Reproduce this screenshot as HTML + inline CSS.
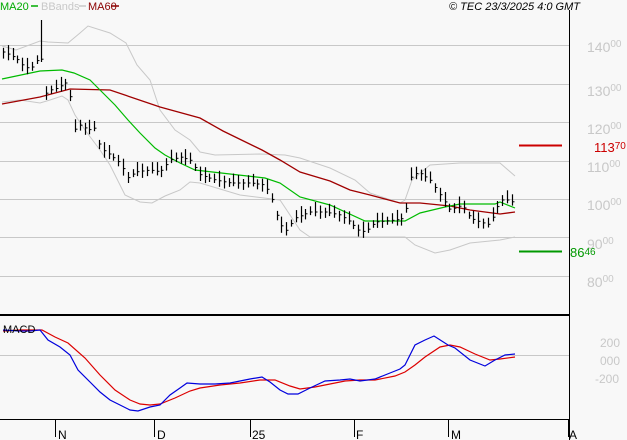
<!DOCTYPE html>
<html><head><meta charset="utf-8"><style>
html,body{margin:0;padding:0;background:#f8f8f8;}
svg{display:block;font-family:"Liberation Sans",sans-serif;}
</style></head><body>
<svg id="s" width="627" height="440" xmlns="http://www.w3.org/2000/svg">
<rect width="627" height="440" fill="#f8f8f8"/>
<g stroke="#c8c8c8" stroke-width="1">
<line x1="0" y1="45.5" x2="569" y2="45.5"/><line x1="0" y1="84.5" x2="569" y2="84.5"/>
<line x1="0" y1="122.5" x2="569" y2="122.5"/><line x1="0" y1="161.5" x2="569" y2="161.5"/>
<line x1="0" y1="199.5" x2="569" y2="199.5"/><line x1="0" y1="237.5" x2="569" y2="237.5"/>
<line x1="0" y1="276.5" x2="569" y2="276.5"/><line x1="0" y1="355.5" x2="569" y2="355.5"/>
</g>
<g fill="#c8c8c8" font-size="14">
<text x="587" y="52">140<tspan font-size="10" dy="-5">00</tspan></text>
<text x="587" y="96">130<tspan font-size="10" dy="-5">00</tspan></text>
<text x="587" y="134">120<tspan font-size="10" dy="-5">00</tspan></text>
<text x="587" y="172">110<tspan font-size="10" dy="-5">00</tspan></text>
<text x="587" y="210">100<tspan font-size="10" dy="-5">00</tspan></text>
<text x="587" y="249">90<tspan font-size="10" dy="-5">00</tspan></text>
<text x="587" y="287">80<tspan font-size="10" dy="-5">00</tspan></text>
<text x="600" y="347" font-size="12">200</text>
<text x="600" y="365" font-size="12">000</text>
<text x="595" y="383" font-size="12">-200</text>
</g>
<line x1="519" y1="145.5" x2="562" y2="145.5" stroke="#cc0000" stroke-width="2"/>
<line x1="519" y1="251.5" x2="562" y2="251.5" stroke="#009900" stroke-width="2"/>
<text x="594" y="152" fill="#cc0000" font-size="13">113<tspan font-size="10" dy="-3">70</tspan></text>
<text x="570" y="257" fill="#009900" font-size="13">86<tspan font-size="10" dy="-2">46</tspan></text>
<g id="plot"></g>
<line x1="569.5" y1="10" x2="569.5" y2="440" stroke="#000"/>
<line x1="0" y1="315" x2="569" y2="315" stroke="#000" stroke-width="2"/>
<line x1="0" y1="419.5" x2="569" y2="419.5" stroke="#000"/>
<g stroke="#000"><line x1="55.5" y1="419" x2="55.5" y2="437"/><line x1="154.5" y1="419" x2="154.5" y2="437"/><line x1="250.5" y1="419" x2="250.5" y2="437"/><line x1="354.5" y1="419" x2="354.5" y2="437"/><line x1="448.5" y1="419" x2="448.5" y2="437"/><line x1="568.5" y1="419" x2="568.5" y2="437"/></g>
<g font-size="12" fill="#000"><text x="58" y="439">N</text><text x="157" y="439">D</text><text x="252" y="439">25</text><text x="356" y="439">F</text><text x="451" y="439">M</text><text x="569" y="439">A</text></g>
<text x="3" y="333" font-size="11" fill="#000">MACD</text>
<g font-size="11"><text x="0" y="10" fill="#00aa00">MA20</text><line x1="31" y1="6" x2="38" y2="6" stroke="#00aa00" stroke-width="1.5"/>
<text x="41" y="10" fill="#c8c8c8">BBands</text><line x1="79" y1="6" x2="86" y2="6" stroke="#c8c8c8" stroke-width="1.5"/>
<text x="88" y="10" fill="#8b0000">MA60</text><line x1="111" y1="6" x2="119" y2="6" stroke="#8b0000" stroke-width="1.5"/>
<text x="449" y="10" font-style="italic" fill="#000">© TEC 23/3/2025 4:0 GMT</text></g>
</svg>
<script>
function P(a){return a.map((p,i)=>(i?'L':'M')+p[0]+' '+p[1]).join(' ');}
function interp(a,x){for(let i=1;i<a.length;i++){if(x<=a[i][0]){const t=(x-a[i-1][0])/(a[i][0]-a[i-1][0]);return a[i-1][1]+t*(a[i][1]-a[i-1][1]);}}return a[a.length-1][1];}
const up=[[2,46],[16,50],[40,41],[48,42],[68,43],[80,33],[88,26],[110,33],[126,43],[137,65],[150,80],[160,110],[175,130],[190,140],[200,152],[215,155],[260,154],[285,155],[300,158],[330,168],[355,180],[370,193],[400,203],[405,200],[412,180],[430,165],[460,163],[500,163],[515,176]];
const lo=[[2,102],[20,100],[40,103],[50,100],[62,96],[68,100],[75,115],[85,130],[100,150],[110,165],[125,195],[140,202],[152,203],[165,196],[180,190],[190,182],[200,183],[240,195],[280,200],[300,230],[310,237],[330,237],[405,237],[415,245],[435,253],[450,250],[470,243],[500,240],[515,237]];
const ma20=[[2,79],[40,71],[62,70],[74,73],[90,80],[100,90],[115,105],[128,120],[140,133],[155,148],[165,155],[180,163],[195,170],[230,174],[265,178],[280,183],[300,197],[330,205],[365,221],[405,221],[420,213],[445,207],[460,204],[495,204],[500,202],[515,208]];
const ma60=[[2,104],[40,97],[70,89],[110,90],[160,107],[200,118],[223,131],[262,150],[280,160],[300,172],[330,181],[350,190],[370,195],[400,203],[420,203],[450,206],[470,210],[500,214],[515,212]];
const cl=[[3,52],[10,55],[18,60],[25,68],[32,67],[37,60],[40,40],[44,95],[50,90],[58,88],[65,82],[70,95],[74,130],[80,125],[88,130],[95,128],[100,148],[110,155],[120,163],[128,178],[135,172],[150,170],[160,172],[170,160],[180,157],[190,160],[200,175],[215,180],[230,183],[250,183],[265,185],[272,200],[278,220],[285,232],[295,218],[310,212],[325,212],[340,215],[350,222],[358,230],[365,232],[375,222],[395,220],[405,218],[410,178],[418,172],[430,180],[440,195],[450,210],[462,205],[470,218],[480,222],[490,225],[495,210],[502,200],[510,200],[515,205]];
const mb=[[3,330],[20,331],[30,331],[40,330],[48,340],[60,347],[70,355],[78,370],[90,382],[100,392],[110,400],[120,405],[130,410],[138,411],[150,407],[160,405],[170,395],[180,388],[187,383],[200,384],[215,384],[230,383],[240,381],[250,379],[262,377],[270,382],[280,390],[288,394],[298,394],[310,388],[325,381],[340,380],[350,379],[360,381],[375,379],[390,373],[400,369],[405,365],[415,345],[425,340],[434,336],[448,345],[455,348],[470,360],[485,366],[495,360],[505,355],[515,354]];
const mr=[[3,331],[20,330],[42,330],[55,337],[68,343],[85,358],[100,375],[115,390],[130,400],[140,404],[150,405],[160,404],[175,398],[190,391],[200,388],[220,385],[240,383],[260,380],[275,380],[290,386],[300,389],[315,387],[330,384],[345,381],[360,380],[375,380],[395,376],[405,372],[415,365],[425,357],[440,347],[450,345],[460,347],[475,354],[490,360],[500,359],[515,357]];
let h='';
h+='<path d="'+P(up)+'" fill="none" stroke="#c8c8c8"/>';
h+='<path d="'+P(lo)+'" fill="none" stroke="#c8c8c8"/>';
h+='<path d="'+P(ma60)+'" fill="none" stroke="#a00000" stroke-width="1.3"/>';
h+='<path d="'+P(ma20)+'" fill="none" stroke="#00bb00" stroke-width="1.2"/>';
for(let x=3;x<=515;x+=4.8){const xx=Math.round(x)+0.5;const c=interp(cl,x);const r=Math.sin(x*1.7)*0.5+0.5;let hi=c-4-r*6,lw=c+3+Math.cos(x*2.3)*2+2;
if(Math.abs(x-40)<2.5){hi=20;lw=62;}
h+='<line x1="'+xx+'" y1="'+hi.toFixed(1)+'" x2="'+xx+'" y2="'+lw.toFixed(1)+'" stroke="#000" stroke-width="1.2"/>';
h+='<line x1="'+xx+'" y1="'+c.toFixed(1)+'" x2="'+(xx+2)+'" y2="'+c.toFixed(1)+'" stroke="#000"/>';}
h+='<path d="'+P(mr)+'" fill="none" stroke="#dd0000" stroke-width="1.2"/>';
h+='<path d="'+P(mb)+'" fill="none" stroke="#0000dd" stroke-width="1.2"/>';
document.getElementById('plot').innerHTML=h;
</script>
</body></html>
